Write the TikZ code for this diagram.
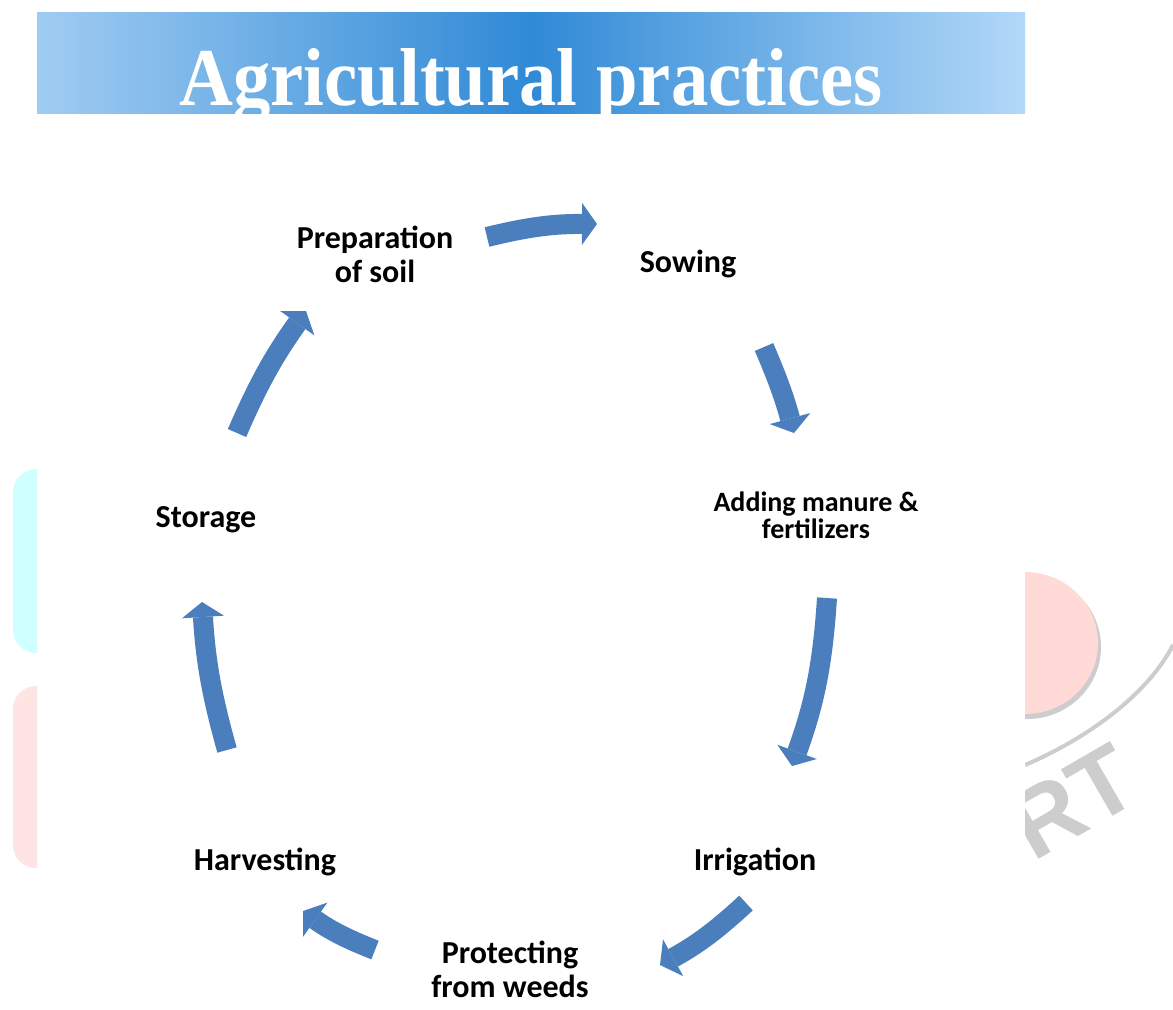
\documentclass[tikz,border=0pt]{standalone}
\usepackage{fontspec}
\setmainfont{Carlito}
\newfontfamily\titlefont{Liberation Serif}
\newfontfamily\wmfont{Liberation Sans}
\usetikzlibrary{arrows.meta}
\definecolor{arrowblue}{RGB}{74,126,188}
\definecolor{bandark}{RGB}{48,138,214}
\definecolor{banlightL}{RGB}{160,204,242}
\definecolor{banlightR}{RGB}{178,216,248}
\definecolor{wmcyan}{RGB}{208,255,255}
\definecolor{wmpink}{RGB}{255,228,228}
\definecolor{wmpinkR}{RGB}{255,218,214}
\definecolor{wmgray}{RGB}{205,205,205}
\begin{document}
\begin{tikzpicture}[x=0.5pt,y=-0.5pt,
  lbl/.style={font=\fontsize{16pt}{17pt}\selectfont\bfseries, align=center, inner sep=0pt, anchor=base},
  cyc/.style={draw=arrowblue, color=arrowblue, line width=10pt,
    -{Triangle[width=21pt,length=7.5pt,line width=0pt]}}]
\useasboundingbox (0,0) rectangle (1173,1009);
\fill[white] (0,0) rectangle (1173,1009);
% left watermark pieces
\begin{scope}
  \clip (0,0) rectangle (37,1009);
  \fill[wmcyan, rounded corners=11.5pt] (13,469) rectangle (80,653);
  \fill[wmpink, rounded corners=11.5pt] (13,686) rectangle (80,868);
\end{scope}
% right watermark pieces
\begin{scope}
  \clip (1025,0) rectangle (1173,1009);
  \fill[wmgray] (1027,647) ellipse [x radius=74, y radius=72];
  \fill[wmpinkR] (1025,643) ellipse [x radius=73, y radius=71];
  \draw[wmgray, line width=2pt] (1025,765) .. controls (1095,735) and (1150,690) .. (1173,645);
  \node[text=wmgray, rotate=30, inner sep=0pt, font=\wmfont\bfseries\fontsize{48pt}{48pt}\selectfont] (rt) at (1072,802) {RT};
\end{scope}
% title banner
\shade[left color=banlightL, right color=banlightR, middle color=bandark] (37,12) rectangle (1025,113);
\begin{scope}
  \clip (37,12) rectangle (1025,113);
  \node[text=white, anchor=base, inner sep=0pt] (title) at (531,105)
    {\resizebox{351.5pt}{28.5pt}{\titlefont\bfseries Agricultural practices}};
\end{scope}
% labels (anchor = baseline of last line)
\node[lbl] (prep) at (375,282) {Preparation\\of soil};
\node[lbl] (sow) at (688,272) {Sowing};
\node[lbl, font=\fontsize{14pt}{13.5pt}\selectfont\bfseries] (manure) at (816,538) {Adding manure \&\\fertilizers};
\node[lbl] (irr) at (755,870) {Irrigation};
\node[lbl] (prot) at (510,997) {Protecting\\from weeds};
\node[lbl] (harv) at (265,870) {Harvesting};
\node[lbl] (stor) at (206,527) {Storage};
% arrow end points
\coordinate (a1s) at (487,237); \coordinate (a1e) at (597,224);
\coordinate (a2s) at (764,347); \coordinate (a2e) at (794,433);
\coordinate (a3s) at (827,598); \coordinate (a3e) at (792,766);
\coordinate (a4s) at (746,903); \coordinate (a4e) at (660,965);
\coordinate (a5s) at (375,950); \coordinate (a5e) at (303,911);
\coordinate (a6s) at (227,750); \coordinate (a6e) at (202,602);
\coordinate (a7s) at (237,433); \coordinate (a7e) at (306,311);
\draw[cyc] (a1s) to[bend left=7] (a1e);
\draw[cyc] (a2s) to[bend left=4] (a2e);
\draw[cyc] (a3s) to[bend left=8] (a3e);
\draw[cyc] (a4s) to[bend left=7] (a4e);
\draw[cyc] (a5s) to[bend left=7] (a5e);
\draw[cyc] (a6s) to[bend left=6] (a6e);
\draw[cyc] (a7s) to[bend left=6] (a7e);
\end{tikzpicture}
\end{document}
